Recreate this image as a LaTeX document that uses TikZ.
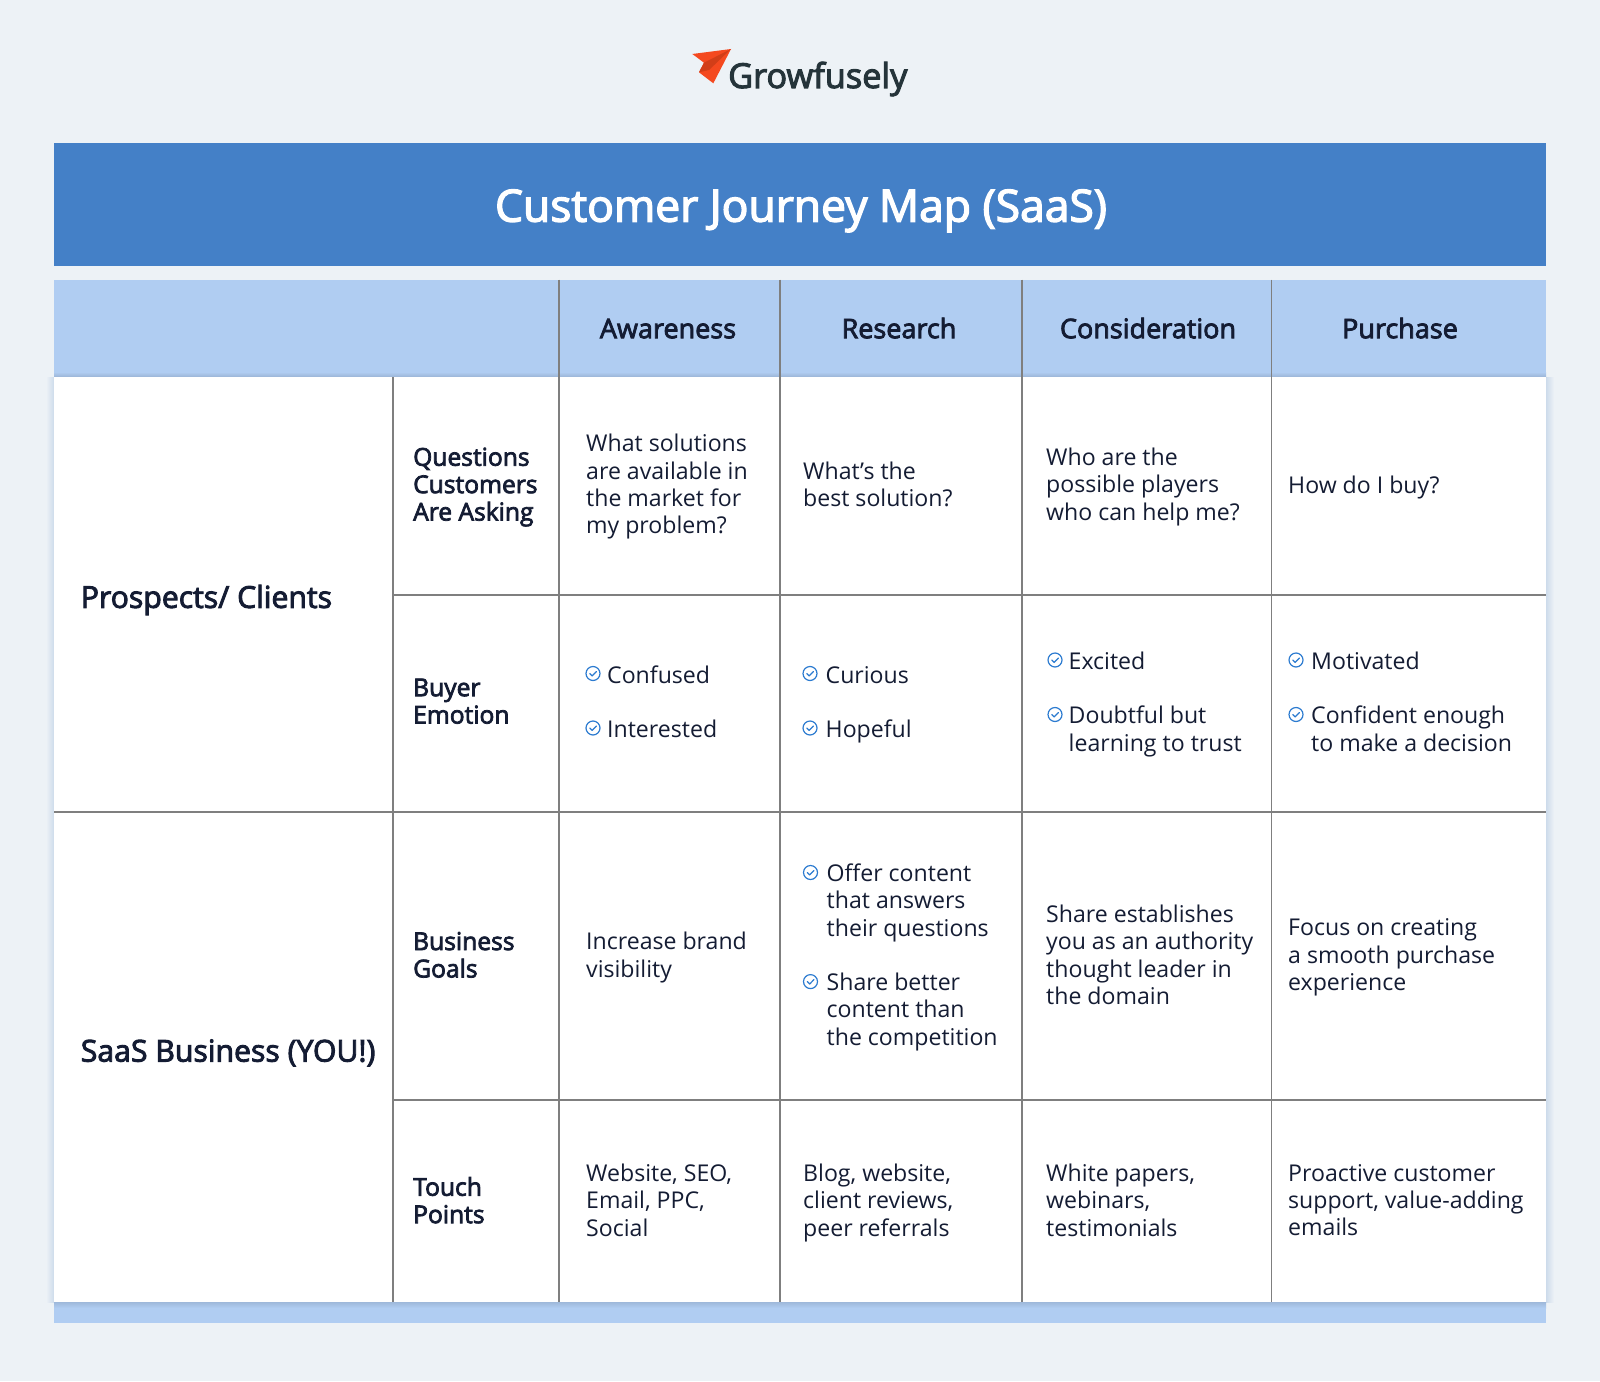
\documentclass[tikz,border=0pt]{standalone}
\usepackage{fontspec}
\setmainfont{Open Sans}
\newfontfamily\semifont[FakeBold=3]{Open Sans}
\usetikzlibrary{positioning,calc}
\definecolor{pagebg}{HTML}{EDF2F6}
\definecolor{titleblue}{HTML}{4480C7}
\definecolor{headblue}{HTML}{B0CDF2}
\definecolor{inkdark}{HTML}{141C33}
\definecolor{gridgrey}{HTML}{7F7F7F}
\definecolor{tickblue}{HTML}{2C7BD0}
\definecolor{planered}{HTML}{F4491F}
\definecolor{planedark}{HTML}{D23E18}
\definecolor{logoink}{HTML}{25343A}
\tikzset{
  cell/.style={anchor=west,align=left,inner sep=0pt,yshift=-4.2pt,text=inkdark,font=\fontsize{23.1}{27.4}\selectfont,
    execute at begin node=\strut,execute at end node=\strut},
  rowlabel/.style={cell,font=\fontsize{24.6}{27.4}\selectfont\semifont},
  grouplabel/.style={cell,font=\fontsize{30.2}{32}\selectfont\semifont},
  colhead/.style={anchor=center,inner sep=0pt,yshift=-3.6pt,text=inkdark,font=\fontsize{27}{30}\selectfont\semifont,
    execute at begin node=\strut},
  gridline/.style={draw=gridgrey,line width=1.5pt},
  tick/.style={draw=tickblue,line width=1.2pt,yshift=-.7pt}
}
\newcommand*{\chk}[1]{%
  \draw[tick] (#1) circle[radius=7];
  \draw[tick,line cap=round,line join=round] ($(#1)+(-3.2,0)$) -- ++(2.4,2.4) -- ++(4.2,-4.4);
}
\begin{document}
\begin{tikzpicture}[x=1pt,y=-1pt]
\useasboundingbox (0,0) rectangle (1600,1381);
\fill[pagebg] (0,0) rectangle (1600,1381);
% logo
\fill[planered] (731,49) -- (692.3,54) -- (704,62.7) -- (699,72.3) -- (713.3,83.3) -- cycle;
\fill[planedark] (731,49) -- (704,62.7) -- (699,72.3) -- (709,70) -- cycle;
\node[anchor=base west,inner sep=0pt,text=logoink,font=\fontsize{34.3}{40}\selectfont\semifont] (logo) at (728,88) {Growfusely};
% title bar
\fill[titleblue] (54,143) rectangle (1546,266);
\node[inner sep=0pt,text=white,font=\fontsize{44.4}{48}\selectfont\semifont] (title) at (801,212) {\strut Customer Journey Map (SaaS)};
% table body
\shade[left color=pagebg,right color=black!10!headblue!40!pagebg] (46,377) rectangle (54,1302);
\shade[right color=pagebg,left color=black!10!headblue!40!pagebg] (1546,377) rectangle (1554,1302);
\fill[headblue] (54,279.5) rectangle (1546,377);
\shade[top color=headblue,bottom color=black!12!headblue] (54,372) rectangle (1546,377);
\fill[white] (54,377) rectangle (1546,1302);
\fill[headblue] (54,1302) rectangle (1546,1323);
\shade[bottom color=headblue,top color=black!10!headblue] (54,1302) rectangle (1546,1308);
% grid
\foreach \x in {559,780,1022,1271.7}
  \draw[gridline] (\x,279.5) -- (\x,1302);
\draw[gridline] (393,377) -- (393,1302);
\foreach \y/\xa in {595/393,812/54,1100/393}
  \draw[gridline] (\xa,\y) -- (1546,\y);
% column heads
\foreach \x/\txt/\nm in {668/Awareness/awareness,899/Research/research,1148/Consideration/consideration,1400/Purchase/purchase}
  \node[colhead] (\nm) at (\x,328.6) {\txt};
% groups
\node[grouplabel] (prospects) at (80.6,597) {Prospects/ Clients};
\node[grouplabel] (saas) at (80.6,1051) {SaaS Business (YOU!)};
% row labels
\node[rowlabel] (questions) at (413,484) {Questions\\Customers\\Are Asking};
\node[rowlabel] (emotion) at (413,701) {Buyer\\Emotion};
\node[rowlabel] (goals) at (413,954.6) {Business\\Goals};
\node[rowlabel] (touch) at (413,1200) {Touch\\Points};
% questions
\node[cell] (qa) at (586,484) {What solutions\\are available in\\the market for\\my problem?};
\node[cell] (qb) at (803,484) {What's the\\best solution?};
\node[cell] (qc) at (1046,484) {Who are the\\possible players\\who can help me?};
\node[cell] (qd) at (1288,484) {How do I buy?};
% emotions
\node[cell] (ea1) at (607,673.5) {Confused};
\node[cell] (ea2) at (607,728) {Interested};
\node[cell] (eb1) at (825.5,673.5) {Curious};
\node[cell] (eb2) at (825.5,728) {Hopeful};
\node[cell] (ec1) at (1068.5,660) {Excited};
\node[cell] (ec2) at (1068.5,728.5) {Doubtful but\\learning to trust};
\node[cell] (ed1) at (1311,660) {Motivated};
\node[cell] (ed2) at (1311,728.5) {Confident enough\\to make a decision};
\foreach \x/\y in {593/673.5,593/728,810/673.5,810/728,1055/660,1055/714.5,1296/660,1296/714.5}{
  \coordinate (c) at (\x,\y);
  \chk{c}
}
% goals
\node[cell] (ga) at (586,954.6) {Increase brand\\visibility};
\node[cell] (gb1) at (826.5,900) {Offer content\\that answers\\their questions};
\node[cell] (gb2) at (826.5,1009) {Share better\\content than\\the competition};
\node[cell] (gc) at (1046,954.6) {Share establishes\\you as an authority\\thought leader in\\the domain};
\node[cell] (gd) at (1288,954.6) {Focus on creating\\a smooth purchase\\experience};
\coordinate (c) at (810.5,872.5); \chk{c}
\coordinate (c) at (810.5,981.6); \chk{c}
% touch points
\node[cell] (ta) at (586,1200) {Website, SEO,\\Email, PPC,\\Social};
\node[cell] (tb) at (803,1200) {Blog, website,\\client reviews,\\peer referrals};
\node[cell] (tc) at (1046,1200) {White papers,\\webinars,\\testimonials};
\node[cell] (td) at (1288,1200) {Proactive customer\\support, value-adding\\emails};
\end{tikzpicture}
\end{document}
